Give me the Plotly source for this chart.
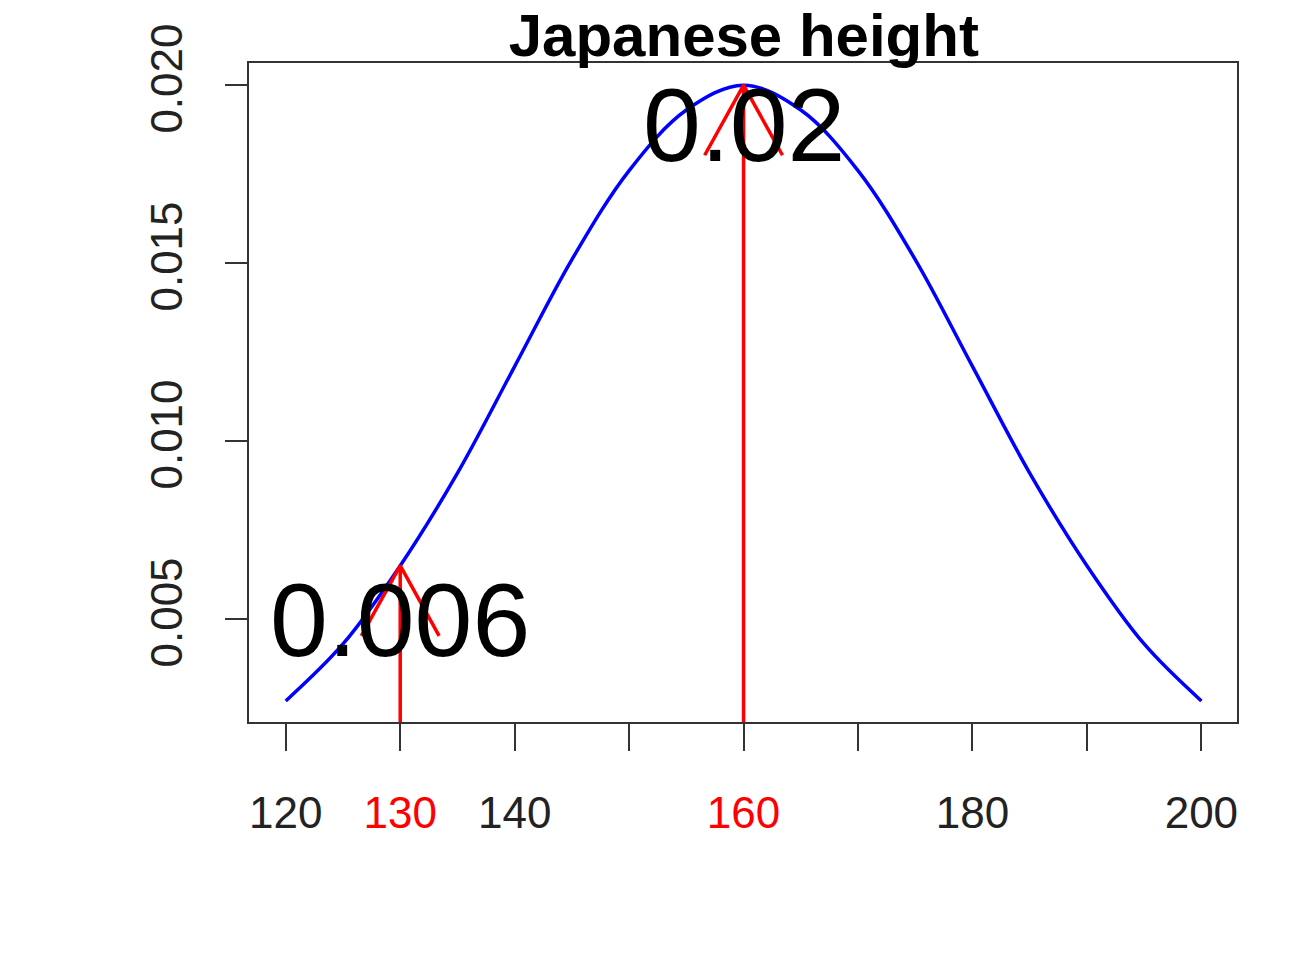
import plotly.graph_objects as go

# density curve
heights = [120, 125, 130, 135, 140, 145, 150, 155, 160, 165, 170, 175, 180, 185, 190, 195, 200]
density = [0.0027, 0.0043, 0.0065, 0.0091, 0.0121, 0.0151, 0.0176, 0.0193, 0.0200,
           0.0193, 0.0176, 0.0151, 0.0121, 0.0091, 0.0065, 0.0043, 0.0027]

marked_x = [130, 160]
marked_y = [0.0065, 0.0200]
marked_text = ["0.006", "0.02"]
label_y = [0.00496, 0.01888]

x_ticks = [120, 130, 140, 150, 160, 170, 180, 190, 200]
x_ticktext = ["120", "<span style='color:red'>130</span>", "140", "",
              "<span style='color:red'>160</span>", "", "180", "", "200"]
y_ticks = [0.005, 0.010, 0.015, 0.020]
y_ticktext = ["0.005", "0.010", "0.015", "0.020"]

y_bottom = 0.00208
fig = go.Figure()
fig.add_trace(go.Scatter(x=heights, y=density, mode="lines",
                         line=dict(color="blue", width=3.5, shape="spline"),
                         showlegend=False))

for x, y in zip(marked_x, marked_y):
    fig.add_trace(go.Scatter(x=[x, x], y=[y_bottom, y], mode="lines",
                             line=dict(color="red", width=3.5), showlegend=False))
    fig.add_trace(go.Scatter(x=[x - 3.4, x, x + 3.4], y=[y - 0.00197, y, y - 0.00197],
                             mode="lines", line=dict(color="red", width=3.5), showlegend=False))

for x, y, t in zip(marked_x, label_y, marked_text):
    fig.add_annotation(x=x, y=y, text=t, showarrow=False,
                       font=dict(size=104, color="black", family="Liberation Sans"))

fig.add_shape(type="rect", xref="paper", yref="paper", x0=0, y0=0, x1=1, y1=1,
              line=dict(color="#333", width=2))

fig.update_layout(
    width=1300, height=975, plot_bgcolor="white", paper_bgcolor="white",
    margin=dict(l=240, r=70, t=54, b=260),
    font=dict(family="Liberation Sans", size=44, color="#222"),
    title=dict(text="<b>Japanese height</b>", x=0.566, xanchor="center", y=0.972,
               yanchor="middle", font=dict(size=60, color="black")),
    xaxis=dict(range=[116.7, 203.2], tickvals=x_ticks, ticktext=x_ticktext,
               ticks="outside", ticklen=27, tickwidth=2, tickcolor="#333",
               showgrid=False, zeroline=False, ticklabelstandoff=24),
    yaxis=dict(range=[y_bottom, 0.02065], tickvals=y_ticks, ticktext=y_ticktext,
               ticks="outside", ticklen=22, tickwidth=2, tickcolor="#333",
               showgrid=False, zeroline=False, tickangle=-90, ticklabelstandoff=25),
)

fig.write_html("out.html")
